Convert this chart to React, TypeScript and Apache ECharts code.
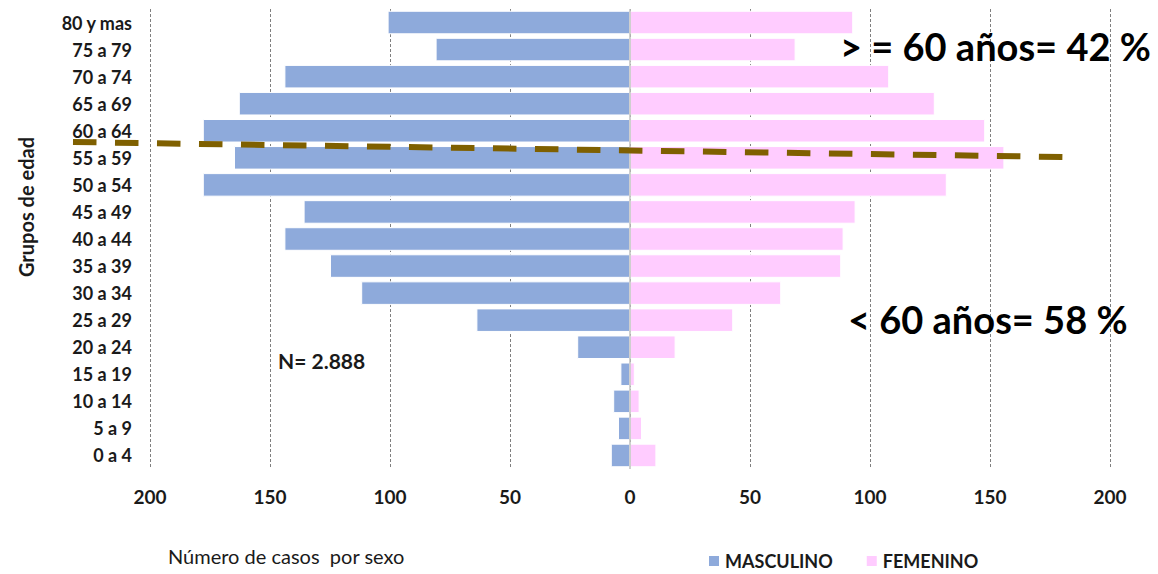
import React, { useEffect, useRef } from "react";
import * as echarts from "echarts";

const ageGroups = [
  "80 y mas", "75 a 79", "70 a 74", "65 a 69", "60 a 64", "55 a 59", "50 a 54",
  "45 a 49", "40 a 44", "35 a 39", "30 a 34", "25 a 29", "20 a 24", "15 a 19",
  "10 a 14", "5 a 9", "0 a 4",
];
const masculino = [101, 81, 144, 163, 178, 165, 178, 136, 144, 125, 112, 64, 22, 4, 7, 5, 8];
const femenino = [93, 69, 108, 127, 148, 156, 132, 94, 89, 88, 63, 43, 19, 2, 4, 5, 11];
const xTicks = { min: -200, max: 200, interval: 50 };

const FONT = "Lato";

export default function App() {
  const ref = useRef<HTMLDivElement>(null);
  useEffect(() => {
    if (!ref.current) return;
    const chart = echarts.init(ref.current, null, { renderer: "svg" });
    chart.setOption({
      animation: false,
      backgroundColor: "#ffffff",
      textStyle: { fontFamily: FONT },
      grid: { left: 150, right: 48, top: 9, bottom: 105, containLabel: false },
      xAxis: {
        type: "value",
        min: xTicks.min,
        max: xTicks.max,
        interval: xTicks.interval,
        axisLine: { show: false },
        axisTick: { show: false },
        axisLabel: {
          margin: 18,
          fontSize: 19,
          fontWeight: "bold",
          color: "#1a1a1a",
          fontFamily: FONT,
          formatter: (v: number) => String(Math.abs(v)),
        },
        splitLine: { show: true, lineStyle: { color: "#7f7f7f", type: [3, 2], width: 1 } },
      },
      yAxis: {
        type: "category",
        data: ageGroups,
        inverse: true,
        axisLine: { show: false },
        axisTick: { show: false },
        axisLabel: {
          margin: 18,
          fontSize: 18,
          fontWeight: "bold",
          color: "#1a1a1a",
          fontFamily: FONT,
        },
        splitLine: { show: false },
      },
      legend: {
        left: 707,
        top: 552,
        padding: 0,
        itemWidth: 12,
        itemHeight: 12,
        itemGap: 32,
        icon: "rect",
        textStyle: { fontSize: 18, fontWeight: "bold", color: "#1a1a1a", fontFamily: FONT, lineHeight: 18 },
        data: ["MASCULINO", "FEMENINO"],
      },
      series: [
        {
          name: "MASCULINO",
          type: "bar",
          data: masculino.map((v) => -v),
          barCategoryGap: "13%",
          barGap: "-100%",
          itemStyle: { color: "#8EAADB", borderColor: "#ffffff", borderWidth: 1 },
          markLine: {
            silent: true,
            symbol: "none",
            label: { show: false },
            lineStyle: { color: "#bfbfbf", type: "solid", width: 1.5 },
            data: [{ xAxis: 0 }],
          },
        },
        {
          name: "FEMENINO",
          type: "bar",
          data: femenino,
          barCategoryGap: "13%",
          barGap: "-100%",
          itemStyle: { color: "#FFCCFF", borderColor: "#ffffff", borderWidth: 1 },
        },
      ],
      graphic: [
        {
          type: "line",
          z: 100,
          shape: { x1: 73, y1: 142, x2: 1063, y2: 157 },
          style: { stroke: "#7F6000", lineWidth: 6, lineDash: [23.5, 18.5] },
        },
        {
          type: "text",
          left: 840,
          top: 27,
          z: 101,
          style: { text: "> = 60 años= 42 %", fontSize: 38, fontWeight: "bold", fontFamily: FONT, fill: "#000" },
        },
        {
          type: "text",
          left: 848,
          top: 300,
          z: 101,
          style: { text: "< 60 años= 58 %", fontSize: 38, fontWeight: "bold", fontFamily: FONT, fill: "#000" },
        },
        {
          type: "text",
          left: 278,
          top: 350,
          z: 101,
          style: { text: "N= 2.888", fontSize: 21, fontWeight: "bold", fontFamily: FONT, fill: "#1a1a1a" },
        },
        {
          type: "text",
          x: 26,
          y: 207,
          rotation: Math.PI / 2,
          style: {
            text: "Grupos de edad",
            fontSize: 20,
            fontWeight: "bold",
            fontFamily: FONT,
            fill: "#1a1a1a",
            align: "center",
            verticalAlign: "middle",
          },
        },
        {
          type: "text",
          left: 168,
          top: 546,
          style: { text: "Número de casos  por sexo", fontSize: 20, fontFamily: FONT, fill: "#1a1a1a" },
        },
      ],
    });
    return () => chart.dispose();
  }, []);
  return (
    <div
      ref={ref}
      style={{ position: "fixed", left: 0, top: 0, width: 1158, height: 574, background: "#fff" }}
    />
  );
}
